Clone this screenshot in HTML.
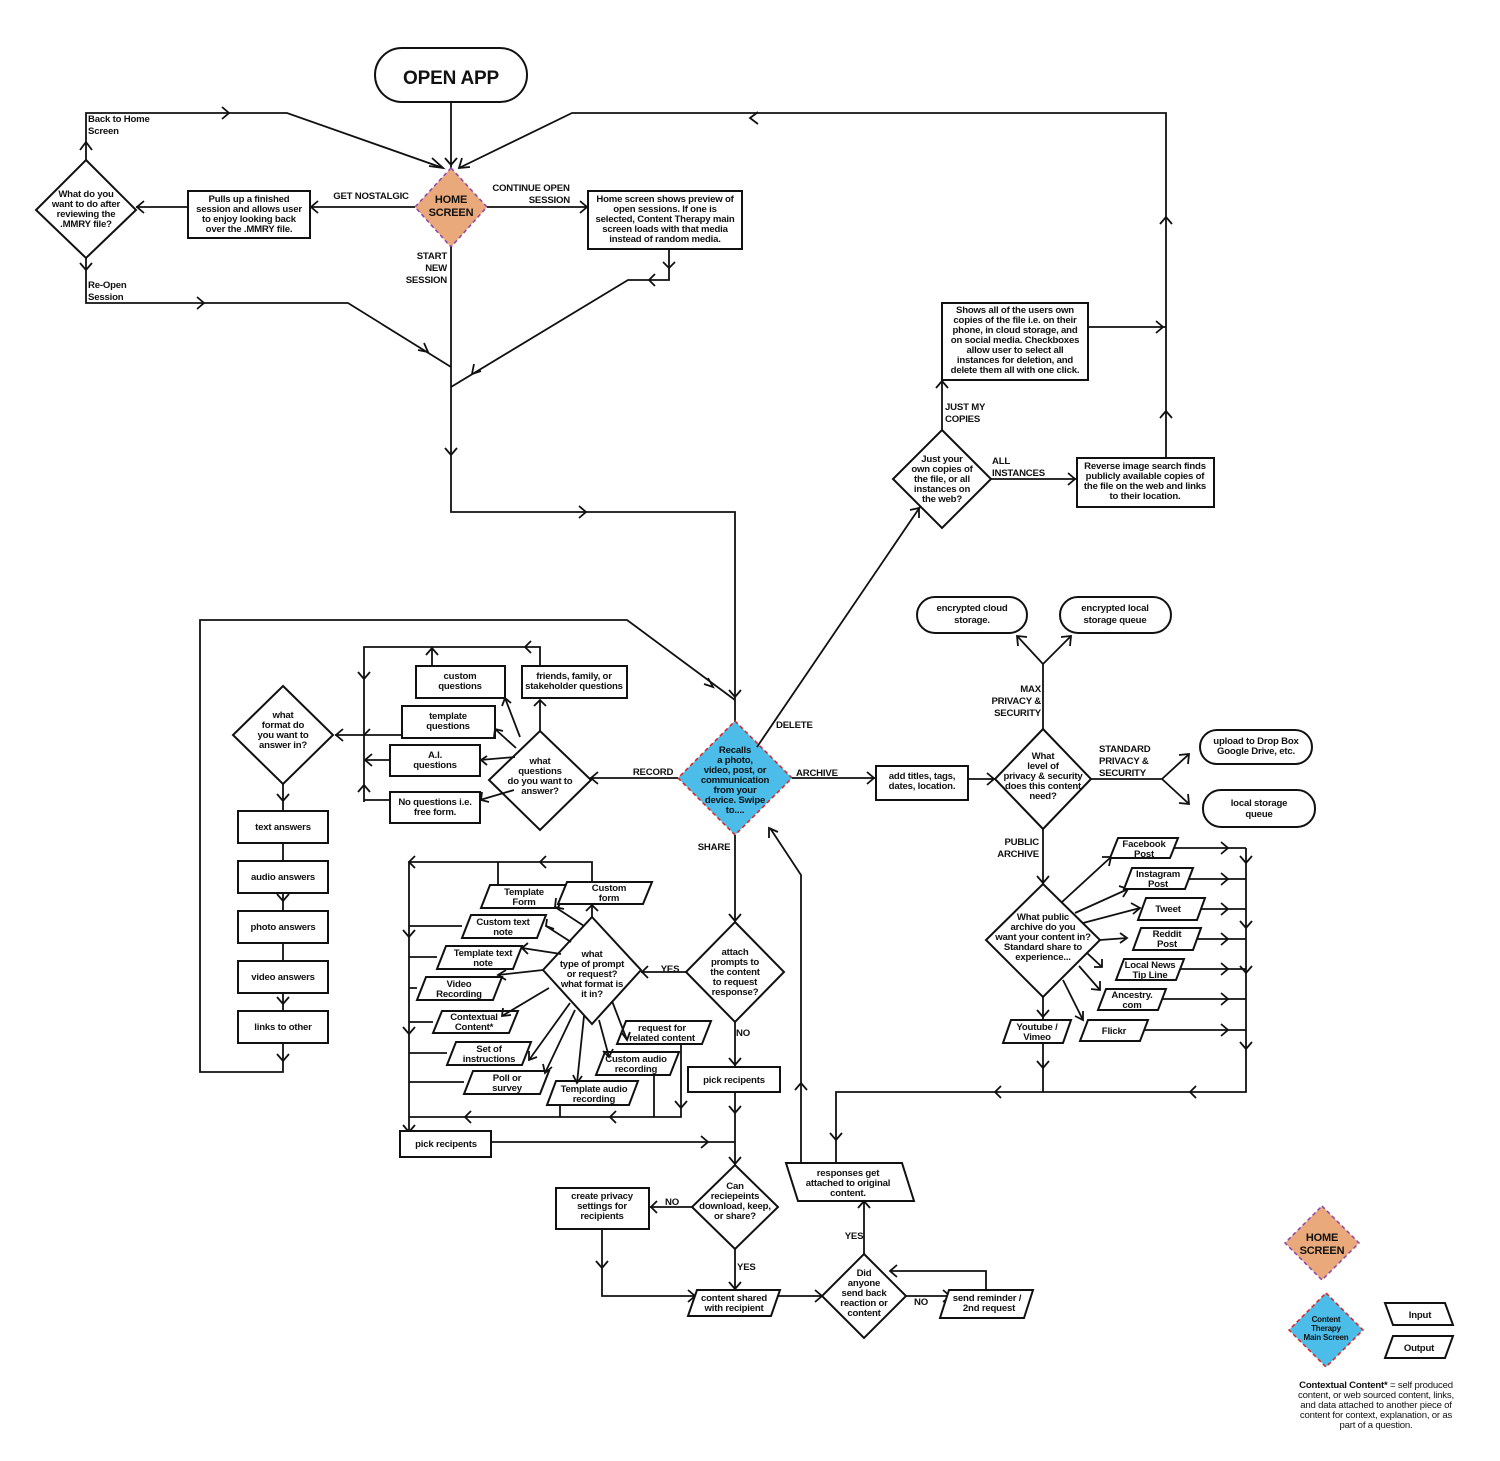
<!DOCTYPE html>
<html><head><meta charset="utf-8"><style>
html,body{margin:0;padding:0;background:#fff}
svg{display:block}
text{font-family:"Liberation Sans",sans-serif;font-weight:bold;font-size:9.6px;fill:#111;text-anchor:middle;letter-spacing:-0.2px}
.l{text-anchor:start}.r{text-anchor:end}
.s{fill:#fff;stroke:#111;stroke-width:2}
path,line,polyline{fill:none;stroke:#111;stroke-width:1.8}
</style></head><body>
<svg width="1500" height="1461" viewBox="0 0 1500 1461">
<rect width="1500" height="1461" fill="#fff"/>
<!-- TOP -->
<rect x="375" y="48" width="152" height="54" rx="27" class="s"/>
<text x="451" y="84" style="font-size:19px">OPEN APP</text>
<path d="M451 102V168"/><path d="M445 158L451 165L457 158"/>
<path d="M86 160V113H287L443 168"/><path d="M222 107L229 113L222 119"/><path d="M432 158L443 168L429 166"/><path d="M80 150L86 142L92 150"/>
<path d="M1166 458V113H572L459 168"/><path d="M758 112L750 118L758 124"/><path d="M462 158L459 168L470 167"/><path d="M1160 224L1166 217L1172 224"/><path d="M1160 418L1166 411L1172 418"/>
<path d="M1088 327H1166"/><path d="M1156 321L1163 327L1156 333"/>
<polygon points="451,168 487,207 451,247 415,207" fill="#e9a97a" stroke="#8e44ad" stroke-width="1.5" stroke-dasharray="4,3"/>
<text x="451" y="203" style="font-size:11px">HOME</text><text x="451" y="216" style="font-size:11px">SCREEN</text>
<path d="M415 207H310"/><path d="M318 201L311 207L318 213"/>
<rect x="188" y="191" width="122" height="47" class="s"/>
<text x="249" y="202">Pulls up a finished</text><text x="249" y="212">session and allows user</text><text x="249" y="222">to enjoy looking back</text><text x="249" y="232">over the .MMRY file.</text>
<path d="M188 207H136"/><path d="M144 201L137 207L144 213"/>
<polygon points="86,160 136,210 86,258 36,210" class="s"/>
<text x="86" y="197">What do you</text><text x="86" y="207">want to do after</text><text x="86" y="217">reviewing the</text><text x="86" y="227">.MMRY file?</text>
<path d="M86 258V303H348L451 367"/><path d="M80 263L86 270L92 263"/><path d="M197 297L204 303L197 309"/><path d="M418 350L428 352L424 343"/>
<text x="371" y="199">GET NOSTALGIC</text>
<text x="531" y="191">CONTINUE OPEN</text><text x="570" y="203" class="r">SESSION</text>
<text x="447" y="259" class="r">START</text><text x="447" y="271" class="r">NEW</text><text x="447" y="283" class="r">SESSION</text>
<text x="88" y="122" class="l">Back to Home</text><text x="88" y="134" class="l">Screen</text>
<text x="88" y="288" class="l">Re-Open</text><text x="88" y="300" class="l">Session</text>
<path d="M487 207H588"/><path d="M580 201L587 207L580 213"/>
<rect x="588" y="191" width="154" height="58" class="s"/>
<text x="665" y="202">Home screen shows preview of</text><text x="665" y="212">open sessions. If one is</text><text x="665" y="222">selected, Content Therapy main</text><text x="665" y="232">screen loads with that media</text><text x="665" y="242">instead of random media.</text>
<path d="M669 249V280H628L451 387"/><path d="M663 262L669 268L675 262"/><path d="M655 274L649 280L655 286"/><path d="M474 364L472 374L481 371"/>
<path d="M451 247V512H735V722"/><path d="M445 448L451 455L457 448"/><path d="M579 506L586 512L579 518"/><path d="M729 690L735 697L741 690"/>
<!-- Recall diamond -->
<polygon points="735,721 792,778 735,835 678,778" fill="#4bbde8" stroke="#e02020" stroke-width="1.5" stroke-dasharray="4,3"/>
<text x="735" y="753">Recalls</text><text x="735" y="763">a photo,</text><text x="735" y="773">video, post, or</text><text x="735" y="783">communication</text><text x="735" y="793">from your</text><text x="735" y="803">device. Swipe</text><text x="735" y="813">to....</text>
<!-- Delete -->
<path d="M757 747L920 507"/><path d="M910 510L919 508L919 518"/>
<text x="776" y="728" class="l">DELETE</text>
<polygon points="942,430 991,479 942,528 893,479" class="s"/>
<text x="942" y="462">Just your</text><text x="942" y="472">own copies of</text><text x="942" y="482">the file, or all</text><text x="942" y="492">instances on</text><text x="942" y="502">the web?</text>
<path d="M942 430V380"/><path d="M936 388L942 381L948 388"/>
<rect x="942" y="303" width="146" height="77" class="s"/>
<text x="1015" y="313">Shows all of the users own</text><text x="1015" y="323">copies of the file i.e. on their</text><text x="1015" y="333">phone, in cloud storage, and</text><text x="1015" y="343">on social media. Checkboxes</text><text x="1015" y="353">allow user to select all</text><text x="1015" y="363">instances for deletion, and</text><text x="1015" y="373">delete them all with one click.</text>
<text x="945" y="410" class="l">JUST MY</text><text x="945" y="422" class="l">COPIES</text>
<path d="M991 479H1077"/><path d="M1068 473L1075 479L1068 485"/>
<text x="992" y="464" class="l">ALL</text><text x="992" y="476" class="l">INSTANCES</text>
<rect x="1077" y="458" width="137" height="49" class="s"/>
<text x="1145" y="469">Reverse image search finds</text><text x="1145" y="479">publicly available copies of</text><text x="1145" y="489">the file on the web and links</text><text x="1145" y="499">to their location.</text>
<!-- Archive -->
<path d="M792 778H876"/><path d="M867 772L874 778L867 784"/>
<text x="796" y="776" class="l">ARCHIVE</text>
<rect x="876" y="766" width="92" height="34" class="s"/>
<text x="922" y="779">add titles, tags,</text><text x="922" y="789">dates, location.</text>
<path d="M968 779H995"/><path d="M987 773L994 779L987 785"/>
<polygon points="1043,729 1091,779 1043,829 995,779" class="s"/>
<text x="1043" y="759">What</text><text x="1043" y="769">level of</text><text x="1043" y="779">privacy &amp; security</text><text x="1043" y="789">does this content</text><text x="1043" y="799">need?</text>
<path d="M1043 729V664L1018 637M1043 664L1070 637"/><path d="M1018 646L1017 636L1027 637"/><path d="M1061 637L1071 636L1070 646"/>
<text x="1041" y="692" class="r">MAX</text><text x="1041" y="704" class="r">PRIVACY &amp;</text><text x="1041" y="716" class="r">SECURITY</text>
<rect x="917" y="597" width="110" height="36" rx="18" class="s"/><text x="972" y="611">encrypted cloud</text><text x="972" y="623">storage.</text>
<rect x="1060" y="597" width="111" height="36" rx="18" class="s"/><text x="1115" y="611">encrypted local</text><text x="1115" y="623">storage queue</text>
<path d="M1091 779H1162L1188 755M1162 779L1188 803"/><path d="M1179 755L1189 754L1188 764"/><path d="M1179 803L1189 804L1188 794"/>
<text x="1099" y="752" class="l">STANDARD</text><text x="1099" y="764" class="l">PRIVACY &amp;</text><text x="1099" y="776" class="l">SECURITY</text>
<rect x="1200" y="730" width="112" height="34" rx="17" class="s"/><text x="1256" y="744">upload to Drop Box</text><text x="1256" y="754">Google Drive, etc.</text>
<rect x="1203" y="790" width="112" height="37" rx="18" class="s"/><text x="1259" y="806">local storage</text><text x="1259" y="817">queue</text>
<path d="M1043 829V885"/><path d="M1037 876L1043 883L1049 876"/>
<text x="1039" y="845" class="r">PUBLIC</text><text x="1039" y="857" class="r">ARCHIVE</text>
<polygon points="1043,884 1100,940 1043,997 986,940" class="s"/>
<text x="1043" y="920">What public</text><text x="1043" y="930">archive do you</text><text x="1043" y="940">want your content in?</text><text x="1043" y="950">Standard share to</text><text x="1043" y="960">experience...</text>
<path d="M1062 902L1111 857M1075 913L1128 889M1083 923L1140 908M1100 940L1127 938M1087 953L1102 967M1079 966L1100 990M1063 980L1083 1020"/>
<path d="M1102 857L1111 857L1109 866"/><path d="M1119 886L1128 889L1123 897"/><path d="M1131 903L1140 908L1133 914"/><path d="M1120 933L1127 938L1120 943"/><path d="M1102 959L1102 967L1094 967"/><path d="M1100 981L1100 990L1091 989"/><path d="M1083 1011L1083 1020L1075 1016"/>
<path d="M1043 997V1020M1043 1043V1092"/><path d="M1037 1010L1043 1017L1049 1010"/><path d="M1037 1061L1043 1068L1049 1061"/>
<g class="s"><polygon class="s" points="1118,838 1178,838 1170,858 1110,858"/><polygon class="s" points="1132,868 1193,868 1185,889 1124,889"/><polygon class="s" points="1146,898 1205,898 1197,920 1138,920"/><polygon class="s" points="1141,928 1201,928 1193,950 1133,950"/><polygon class="s" points="1124,959 1184,959 1176,980 1116,980"/><polygon class="s" points="1106,989 1166,989 1158,1010 1098,1010"/><polygon class="s" points="1088,1020 1148,1020 1140,1041 1080,1041"/><polygon class="s" points="1011,1020 1071,1020 1063,1043 1003,1043"/></g>
<text x="1144" y="847">Facebook</text><text x="1144" y="857">Post</text>
<text x="1158" y="877">Instagram</text><text x="1158" y="887">Post</text>
<text x="1168" y="912">Tweet</text>
<text x="1167" y="937">Reddit</text><text x="1167" y="947">Post</text>
<text x="1150" y="968">Local News</text><text x="1150" y="978">Tip Line</text>
<text x="1132" y="998">Ancestry.</text><text x="1132" y="1008">com</text>
<text x="1114" y="1034">Flickr</text>
<text x="1037" y="1030">Youtube /</text><text x="1037" y="1040">Vimeo</text>
<path d="M1174 848H1246M1189 879H1246M1201 909H1246M1197 939H1246M1180 969H1246M1162 999H1246M1144 1030H1246"/>
<path d="M1221 842L1228 848L1221 854M1221 873L1228 879L1221 885M1221 903L1228 909L1221 915M1221 933L1228 939L1221 945M1221 963L1228 969L1221 975M1221 993L1228 999L1221 1005M1221 1024L1228 1030L1221 1036"/>
<path d="M1246 848V1092H836V1163"/>
<path d="M1240 856L1246 863L1252 856M1240 921L1246 928L1252 921M1240 966L1246 973L1252 966M1240 1042L1246 1049L1252 1042M1196 1086L1190 1092L1196 1098M1001 1086L995 1092L1001 1098M830 1133L836 1140L842 1133"/>
<polygon points="786,1163 902,1163 914,1201 798,1201" class="s"/>
<text x="848" y="1176">responses get</text><text x="848" y="1186">attached to original</text><text x="848" y="1196">content.</text>
<path d="M801 1163V875L770 828"/><path d="M795 1090L801 1083L807 1090"/><path d="M769 838L769 828L778 832"/>
<!-- Record -->
<path d="M678 778H590"/><path d="M598 772L591 778L598 784"/>
<text x="653" y="775">RECORD</text>
<polygon points="540,731 591,780 540,830 489,780" class="s"/>
<text x="540" y="764">what</text><text x="540" y="774">questions</text><text x="540" y="784">do you want to</text><text x="540" y="794">answer?</text>
<rect x="416" y="666" width="89" height="32" class="s"/><text x="460" y="679">custom</text><text x="460" y="689">questions</text>
<rect x="522" y="666" width="105" height="32" class="s"/><text x="574" y="679">friends, family, or</text><text x="574" y="689">stakeholder questions</text>
<rect x="402" y="706" width="93" height="32" class="s"/><text x="448" y="719">template</text><text x="448" y="729">questions</text>
<rect x="390" y="745" width="90" height="31" class="s"/><text x="435" y="758">A.I.</text><text x="435" y="768">questions</text>
<rect x="390" y="792" width="90" height="31" class="s"/><text x="435" y="805">No questions i.e.</text><text x="435" y="815">free form.</text>
<path d="M520 737L505 698M540 731V700M516 748L495 729M515 757L480 760M514 790L480 800"/>
<path d="M502 706L505 698L511 703M534 706L540 700L546 706M494 737L495 729L503 731M487 756L481 760L487 765M482 792L481 800L489 802"/>
<path d="M364 802V647H540V666M432 666V647M402 735H335M390 760H364M390 800H364"/>
<path d="M531 641L525 647L531 653M426 655L432 648L438 655M358 672L364 679L370 672M358 792L364 785L370 792M372 754L365 760L372 766M343 729L336 735L343 741M370 729L364 735"/>
<polygon points="283,686 333,735 283,784 233,735" class="s"/>
<text x="283" y="718">what</text><text x="283" y="728">format do</text><text x="283" y="738">you want to</text><text x="283" y="748">answer in?</text>
<path d="M283 784V1072H200V620H627L735 700"/>
<path d="M277 794L283 801L289 794M277 894L283 901L289 894M277 997L283 1004L289 997M277 1054L283 1061L289 1054M704 684L713 687L708 678"/>
<rect x="238" y="811" width="90" height="32" class="s"/><text x="283" y="830">text answers</text>
<rect x="238" y="861" width="90" height="32" class="s"/><text x="283" y="880">audio answers</text>
<rect x="238" y="911" width="90" height="32" class="s"/><text x="283" y="930">photo answers</text>
<rect x="238" y="961" width="90" height="32" class="s"/><text x="283" y="980">video answers</text>
<rect x="238" y="1011" width="90" height="32" class="s"/><text x="283" y="1030">links to other</text>
<!-- Share -->
<path d="M735 835V922"/><path d="M729 914L735 921L741 914"/>
<text x="714" y="850">SHARE</text>
<polygon points="735,922 784,972 735,1022 686,972" class="s"/>
<text x="735" y="955">attach</text><text x="735" y="965">prompts to</text><text x="735" y="975">the content</text><text x="735" y="985">to request</text><text x="735" y="995">response?</text>
<path d="M686 972H641"/><path d="M648 966L642 972L648 978"/>
<text x="670" y="972">YES</text>
<path d="M735 1022V1067"/><path d="M729 1058L735 1065L741 1058"/><text x="743" y="1036">NO</text>
<rect x="688" y="1067" width="92" height="25" class="s"/><text x="734" y="1083">pick recipents</text>
<path d="M735 1092V1165"/><path d="M729 1106L735 1113L741 1106M729 1157L735 1164L741 1157"/>
<polygon points="592,917 641,970 592,1024 543,970" class="s"/>
<text x="592" y="957">what</text><text x="592" y="967">type of prompt</text><text x="592" y="977">or request?</text><text x="592" y="987">what format is</text><text x="592" y="997">it in?</text>
<polygon class="s" points="490,885 567,885 558,908 481,908"/><text x="524" y="895">Template</text><text x="524" y="905">Form</text>
<polygon class="s" points="567,882 652,882 643,904 558,904"/><text x="609" y="891">Custom</text><text x="609" y="901">form</text>
<polygon class="s" points="471,915 546,915 537,938 462,938"/><text x="503" y="925">Custom text</text><text x="503" y="935">note</text>
<polygon class="s" points="446,946 522,946 513,969 437,969"/><text x="483" y="956">Template text</text><text x="483" y="966">note</text>
<polygon class="s" points="426,977 502,977 493,1000 417,1000"/><text x="459" y="987">Video</text><text x="459" y="997">Recording</text>
<polygon class="s" points="442,1011 518,1011 509,1033 433,1033"/><text x="474" y="1020">Contextual</text><text x="474" y="1030">Content*</text>
<polygon class="s" points="456,1042 531,1042 522,1065 447,1065"/><text x="489" y="1052">Set of</text><text x="489" y="1062">instructions</text>
<polygon class="s" points="473,1071 549,1071 540,1094 464,1094"/><text x="507" y="1081">Poll or</text><text x="507" y="1091">survey</text>
<polygon class="s" points="556,1081 638,1081 629,1105 547,1105"/><text x="594" y="1092">Template audio</text><text x="594" y="1102">recording</text>
<polygon class="s" points="605,1052 679,1052 670,1075 596,1075"/><text x="636" y="1062">Custom audio</text><text x="636" y="1072">recording</text>
<polygon class="s" points="626,1021 711,1021 702,1044 617,1044"/><text x="662" y="1031">request for</text><text x="662" y="1041">related content</text>
<path d="M584 926L555 907M592 917V904M571 942L546 926M561 954L522 948M543 970L498 975M549 988L502 1016M570 1003L529 1060M575 1010L545 1073M584 1016L577 1083M599 1020L609 1057M612 1001L627 1040"/>
<path d="M556 898L555 907L564 909M586 911L592 905L598 911M547 919L546 926L554 929M528 943L522 948L528 954M506 970L498 975L506 980M503 1008L502 1016L511 1015M529 1051L529 1060L537 1057M543 1064L545 1073L552 1067M573 1075L577 1083L582 1076M603 1051L609 1057L613 1049M622 1033L627 1040L630 1032"/>
<path d="M409 1135V862H592V882M498 885V862M462 926H409M437 957H409M417 988H409M433 1022H409M447 1053H409M464 1082H409M681 1044V1117H409M654 1075V1117M560 1105V1117"/>
<path d="M546 856L540 862L546 868M415 856L409 862L415 868M403 930L409 937L415 930M403 1027L409 1034L415 1027M403 1125L409 1132L415 1125M471 1111L465 1117L471 1123M616 1111L610 1117L616 1123M675 1101L681 1108L687 1101"/>
<rect x="400" y="1131" width="91" height="26" class="s"/><text x="446" y="1147">pick recipents</text>
<path d="M491 1142H735"/><path d="M701 1136L708 1142L701 1148"/>
<polygon points="735,1165 778,1207 735,1249 692,1207" class="s"/>
<text x="735" y="1189">Can</text><text x="735" y="1199">reciepeints</text><text x="735" y="1209">download, keep,</text><text x="735" y="1219">or share?</text>
<path d="M692 1207H650"/><path d="M657 1201L651 1207L657 1213"/><text x="672" y="1205">NO</text>
<rect x="556" y="1188" width="93" height="41" class="s"/><text x="602" y="1199">create privacy</text><text x="602" y="1209">settings for</text><text x="602" y="1219">recipients</text>
<path d="M602 1229V1296H696"/><path d="M596 1261L602 1268L608 1261M688 1290L695 1296L688 1302"/>
<path d="M735 1249V1290"/><path d="M729 1282L735 1289L741 1282"/><text x="737" y="1270" class="l">YES</text>
<polygon class="s" points="697,1290 780,1290 771,1316 688,1316"/><text x="734" y="1301">content shared</text><text x="734" y="1311">with recipient</text>
<path d="M777 1296H822"/><path d="M815 1290L822 1296L815 1302"/>
<polygon points="864,1254 906,1296 864,1338 822,1296" class="s"/>
<text x="864" y="1276">Did</text><text x="864" y="1286">anyone</text><text x="864" y="1296">send back</text><text x="864" y="1306">reaction or</text><text x="864" y="1316">content</text>
<path d="M864 1254V1201"/><path d="M858 1208L864 1201L870 1208"/><text x="854" y="1239">YES</text>
<path d="M906 1296H950"/><path d="M943 1290L950 1296L943 1302"/><text x="921" y="1305">NO</text>
<polygon class="s" points="949,1290 1033,1290 1024,1318 940,1318"/><text x="987" y="1301">send reminder /</text><text x="989" y="1311">2nd request</text>
<path d="M986 1290V1271H890"/><path d="M897 1265L890 1271L897 1277"/>
<!-- Legend -->
<polygon points="1322,1206 1359,1243 1322,1280 1285,1243" fill="#e9a97a" stroke="#8e44ad" stroke-width="1.5" stroke-dasharray="4,3"/>
<text x="1322" y="1241" style="font-size:11px">HOME</text><text x="1322" y="1254" style="font-size:11px">SCREEN</text>
<polygon points="1326,1293 1363,1330 1326,1367 1289,1330" fill="#4bbde8" stroke="#e02020" stroke-width="1.5" stroke-dasharray="4,3"/>
<text x="1326" y="1322" style="font-size:8px">Content</text><text x="1326" y="1331" style="font-size:8px">Therapy</text><text x="1326" y="1340" style="font-size:8px">Main Screen</text>
<polygon class="s" points="1385,1303 1445,1303 1453,1325 1393,1325"/><text x="1420" y="1318">Input</text>
<polygon class="s" points="1393,1336 1453,1336 1445,1358 1385,1358"/><text x="1419" y="1351">Output</text>
<g style="font-weight:normal">
<text x="1376" y="1388" style="font-weight:normal"><tspan style="font-weight:bold">Contextual Content*</tspan> = self produced</text>
<text x="1376" y="1398" style="font-weight:normal">content, or web sourced content, links,</text>
<text x="1376" y="1408" style="font-weight:normal">and data attached to another piece of</text>
<text x="1376" y="1418" style="font-weight:normal">content for context, explanation, or as</text>
<text x="1376" y="1428" style="font-weight:normal">part of a question.</text>
</g>
</svg>
</body></html>
